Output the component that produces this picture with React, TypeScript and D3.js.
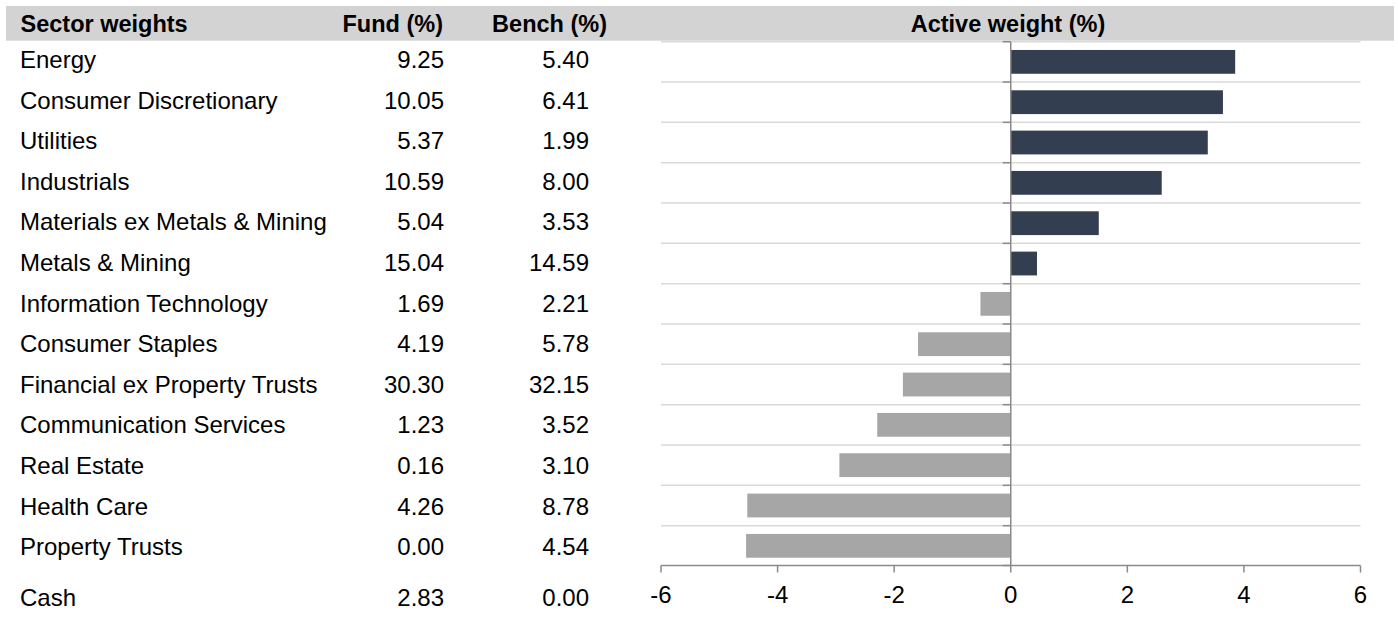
import React from "react";
import * as d3 from "d3";

const sectors = [
  "Energy",
  "Consumer Discretionary",
  "Utilities",
  "Industrials",
  "Materials ex Metals & Mining",
  "Metals & Mining",
  "Information Technology",
  "Consumer Staples",
  "Financial ex Property Trusts",
  "Communication Services",
  "Real Estate",
  "Health Care",
  "Property Trusts",
  "Cash",
];
const fund = [9.25, 10.05, 5.37, 10.59, 5.04, 15.04, 1.69, 4.19, 30.3, 1.23, 0.16, 4.26, 0.0, 2.83];
const bench = [5.4, 6.41, 1.99, 8.0, 3.53, 14.59, 2.21, 5.78, 32.15, 3.52, 3.1, 8.78, 4.54, 0.0];
const chartSectors = sectors.slice(0, 13);
const active = [3.85, 3.64, 3.38, 2.59, 1.51, 0.45, -0.52, -1.59, -1.85, -2.29, -2.94, -4.52, -4.54];
const xTicks = [-6, -4, -2, 0, 2, 4, 6];
const headers = ["Sector weights", "Fund (%)", "Bench (%)", "Active weight (%)"];

const W = 1398;
const H = 621;
const FONT = "'Liberation Sans', Arial, Helvetica, sans-serif";

export default function App() {
  const x = d3.scaleLinear().domain([-6, 6]).range([661, 1360.5]);
  const y = d3
    .scaleBand<string>()
    .domain(chartSectors)
    .range([41.7, 566])
    .paddingInner(0.41)
    .paddingOuter(0.205);
  const step = y.step();
  const bandTop = (i: number) => 41.7 + i * step;
  const rowY = d3.scaleLinear().domain([0, 12]).range([68.1, 555.1]);
  const baseline = (i: number) => (i < 13 ? rowY(i) : 606);
  const axisY = 565.5;
  const x0 = x(0);
  const grid = d3.range(0, 14);

  return (
    <svg
      width={W}
      height={H}
      style={{ position: "absolute", left: 0, top: 0, background: "#fff" }}
      fontFamily={FONT}
    >
      <rect x={6} y={6} width={1388} height={34.7} fill="#d3d3d3" />
      <g fontWeight="bold" fontSize={23.5} fill="#000">
        <text x={20.5} y={31.5}>{headers[0]}</text>
        <text x={443} y={31.5} textAnchor="end">{headers[1]}</text>
        <text x={607} y={31.5} textAnchor="end">{headers[2]}</text>
        <text x={1008} y={31.5} textAnchor="middle">{headers[3]}</text>
      </g>

      {/* gridlines */}
      {grid.slice(0, 13).map((i) => (
        <line
          key={"g" + i}
          x1={x(-6)}
          x2={x(6)}
          y1={bandTop(i)}
          y2={bandTop(i)}
          stroke="#d9d9d9"
          strokeWidth={1.5}
        />
      ))}

      {/* bars */}
      {chartSectors.map((s, i) => (
        <rect
          key={s}
          x={Math.min(x(active[i]), x0)}
          width={Math.abs(x(active[i]) - x0)}
          y={y(s)}
          height={y.bandwidth()}
          fill={active[i] >= 0 ? "#333f50" : "#a6a6a6"}
        />
      ))}

      {/* category axis at zero */}
      <line x1={x0} x2={x0} y1={bandTop(0)} y2={axisY} stroke="#8a8a8a" strokeWidth={1.5} />
      {grid.map((i) => (
        <line
          key={"t" + i}
          x1={x0 - 8}
          x2={x0}
          y1={Math.min(bandTop(i), axisY)}
          y2={Math.min(bandTop(i), axisY)}
          stroke="#8a8a8a"
          strokeWidth={1.5}
        />
      ))}

      {/* value axis */}
      <line x1={x(-6)} x2={x(6)} y1={axisY} y2={axisY} stroke="#8a8a8a" strokeWidth={1.5} />
      {xTicks.map((t) => (
        <g key={"x" + t}>
          <line x1={x(t)} x2={x(t)} y1={axisY} y2={axisY + 7} stroke="#8a8a8a" strokeWidth={1.5} />
          <text x={x(t)} y={602.7} textAnchor="middle" fontSize={24} fill="#000">
            {String(t)}
          </text>
        </g>
      ))}

      {/* table */}
      <g fontSize={24} fill="#000">
        {sectors.map((s, i) => (
          <g key={"r" + s}>
            <text x={20} y={baseline(i)}>{s}</text>
            <text x={444} y={baseline(i)} textAnchor="end">{fund[i].toFixed(2)}</text>
            <text x={589} y={baseline(i)} textAnchor="end">{bench[i].toFixed(2)}</text>
          </g>
        ))}
      </g>
    </svg>
  );
}
